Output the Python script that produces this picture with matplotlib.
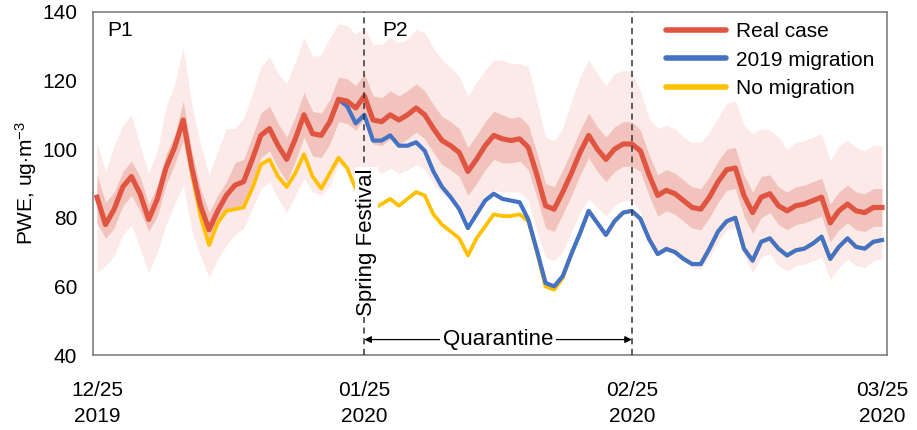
import matplotlib
matplotlib.use('Agg')
import matplotlib.pyplot as plt
from matplotlib.lines import Line2D
import pandas as pd

plt.rcParams['font.family'] = ['Liberation Sans', 'DejaVu Sans']
plt.rcParams['mathtext.fontset'] = 'custom'
plt.rcParams['mathtext.rm'] = 'Liberation Sans'
plt.rcParams['mathtext.it'] = 'Liberation Sans:italic'

# daily PWE, 2019-12-25 .. 2020-03-25
dates = pd.date_range('2019-12-25', '2020-03-25', freq='D')

real_case = [86, 78, 82.5, 89, 92, 87, 79.5, 85.5, 94.5, 100.5, 108.5, 94.5, 83.5, 76.5, 82, 86.5,
             89.5, 90.5, 97, 104, 106, 101, 97, 103, 110, 104.5, 104, 108, 114.5, 114, 112, 115.5,
             108.5, 108, 110, 108.5, 110, 112, 110, 106, 102.5, 101, 99, 93.5, 97, 101, 104, 103,
             102.5, 103, 100.5, 92.5, 83.5, 82.5, 87.5, 93, 99, 104, 100, 97, 100, 101.5, 101.5,
             99.5, 92.5, 86.5, 88, 87, 85, 83, 82.5, 86, 90.5, 94, 94.5, 86.5, 81.5, 86,
             87, 83.5, 82, 83.5, 84, 85, 86, 78.5, 82, 84, 82, 81.5, 83, 83]

# 2019 migration scenario, drawn from 2020-01-22
mig_start = '2020-01-22'
mig_2019 = [114.5, 112.5, 107.5, 110, 102.5, 102.5, 104, 101, 101, 102, 99.5, 93.5, 89, 86, 82.5, 77,
            81, 85, 87, 85.5, 85, 84.5, 79.5, 70.5, 61, 60, 63, 69.5, 75.5, 82, 78.5, 75, 79, 81.5, 82,
            79.7, 73.8, 69.4, 70.9, 70, 68, 66.5, 66.5, 71, 76, 79, 80, 71, 67.5, 73,
            74, 71, 69, 70.5, 71, 72.5, 74.5, 68, 71.5, 74, 71.5, 71, 73, 73.5]

no_mig = [86, 78, 82.5, 89, 92, 87, 79.5, 85.5, 94.5, 100.5, 108, 93, 80.5, 72, 78.5, 82,
          82.5, 83, 88.5, 95.5, 97, 92, 89, 93, 98.5, 92, 88.5, 93, 97.5, 94.5, 88.5, 84,
          82.5, 84, 85.5, 83.5, 85.5, 87.5, 86.5, 81, 78, 76, 74, 69, 74, 77.5, 81, 80.5,
          80.5, 81, 79, 70, 60, 59, 62.5, 69.5, 75.5, 82, 78.5, 75, 79, 81.5, 82,
          79.7, 73.8, 69.4, 70.9, 70, 68, 66.5, 66.5, 71, 76, 79, 80, 71, 67.5, 73,
          74, 71, 69, 70.5, 71, 72.5, 74.5, 68, 71.5, 74, 71.5, 71, 73, 73.5]

# uncertainty bands around the real case
outer_hi = [102, 93.5, 101, 107, 110, 101, 93, 99.5, 112, 119, 129.5, 113, 101.5, 92.5, 99.5, 106,
            106, 109, 116, 124, 127, 122, 119, 125.5, 132.5, 127, 127.5, 132.5, 136.5, 136, 133.5, 135.5,
            130.5, 130.5, 132.5, 131, 132, 135, 134, 129.5, 126, 124, 121, 115.5, 119.5, 123, 126, 126,
            125, 125, 124, 114, 103.5, 102.5, 106, 114, 121, 126, 122, 118.5, 122, 123, 122.5,
            117, 109, 106, 107, 106, 103.5, 102, 102, 105, 109, 113.5, 114, 107, 104.5, 106,
            105.5, 103.5, 100, 102, 102.5, 103.5, 104.5, 96.5, 101, 102.5, 100.5, 99.5, 101, 101]
outer_lo = [64, 66, 69, 75, 78, 71, 64, 70, 78, 84, 89.5, 76, 69, 62.5, 68, 72,
            75, 77, 82.5, 88.5, 90.5, 85.5, 81.5, 86.5, 91.5, 87.5, 86.5, 89.5, 95.5, 94.5, 91.5, 95,
            94, 93, 94.5, 93, 94, 95.5, 94, 90, 87, 85.5, 83.5, 79, 82, 85.5, 88, 87.5,
            87.5, 87.5, 85, 76, 68.5, 67.5, 70, 76, 81.5, 85.5, 83, 80.5, 83.5, 85, 85,
            82, 75, 69, 70.5, 69.5, 67.5, 65.5, 65, 68.5, 73, 76.5, 77, 69, 64, 68.5,
            69.5, 66, 64.5, 66, 66.5, 67.5, 68.5, 62, 65.5, 68, 66, 65.5, 67.5, 68]
inner_hi = [92.5, 84.5, 87.5, 93.5, 96.5, 92, 84, 89.5, 98.5, 104, 114, 99.5, 88.5, 81.5, 86.5, 90.5,
            96, 97, 103.5, 110.5, 112.5, 107.5, 103.5, 109.5, 116.5, 111, 110.5, 114.5, 121, 120.5, 118.5, 122,
            115.5, 115, 117, 115.5, 117, 119, 117, 113, 109.5, 108, 106, 100.5, 104, 108, 111, 110,
            109, 109.5, 107, 99, 90, 89, 94, 99.5, 105.5, 110.5, 106.5, 103.5, 106.5, 108, 108,
            105.5, 98.5, 92.5, 94, 93, 91, 89, 88.5, 92, 96.5, 100, 100.5, 92.5, 87.5, 92,
            92.5, 89, 87.5, 89, 89.5, 90.5, 91.5, 84, 87.5, 89.5, 87.5, 87, 88.5, 88.5]
inner_lo = [78.5, 74, 77, 83.5, 86.5, 82, 76, 80.5, 89.5, 95.5, 102.5, 89.5, 79.5, 73, 78, 82,
            83, 84, 90.5, 97.5, 99.5, 94.5, 90.5, 96.5, 103.5, 98, 97.5, 101.5, 108, 107.5, 105.5, 109,
            101.5, 101, 103, 101.5, 103, 105, 103, 99, 95.5, 94, 92, 86.5, 90, 94, 97, 96,
            96, 96.5, 94, 86, 77, 76, 81, 86.5, 92.5, 97.5, 93.5, 90.5, 93.5, 95, 95,
            93.5, 86.5, 80.5, 82, 81, 79, 77, 76.5, 80, 84.5, 88, 88.5, 80.5, 75.5, 80,
            81.5, 78, 76.5, 78, 78.5, 79.5, 80.5, 73, 76.5, 78.5, 76.5, 76, 77.5, 77.5]

tick_dates = ['2019-12-25', '2020-01-25', '2020-02-25', '2020-03-25']
tick_labels = ['12/25\n2019', '01/25\n2020', '02/25\n2020', '03/25\n2020']

red = '#DF5542'
blue = '#4472C4'
gold = '#FFC000'

fig = plt.figure(figsize=(9.17, 4.30), dpi=100)
ax = fig.add_axes([0.1014, 0.1744, 0.8659, 0.798])

mig_dates = pd.date_range(mig_start, periods=len(mig_2019), freq='D')

ax.fill_between(dates, outer_lo, outer_hi, color='#FBEAE8', lw=0, zorder=1)
ax.fill_between(dates, inner_lo, inner_hi, color='#F2C3BD', lw=0, zorder=1.5)
ax.plot(dates, no_mig, color=gold, lw=2.7, zorder=2)
ax.plot(mig_dates, mig_2019, color=blue, lw=3.0, zorder=3)
ax.plot(dates, real_case, color=red, lw=3.7, zorder=4)

# spring festival / quarantine markers
for d in ['2020-01-25', '2020-02-25']:
    ax.axvline(pd.Timestamp(d), color='#333333', lw=1.1, ls=(0, (4, 3)), zorder=5)

ax.text(pd.Timestamp('2020-01-25 06:00'), 73, 'Spring Festival', rotation=90,
        ha='center', va='center', fontsize=16, zorder=6,
        bbox=dict(facecolor='white', edgecolor='none', pad=1))
ax.annotate('', xy=(pd.Timestamp('2020-01-25'), 44.5), xytext=(pd.Timestamp('2020-02-25'), 44.5),
            arrowprops=dict(arrowstyle='<|-|>', color='black', lw=0.9, mutation_scale=10,
                            shrinkA=0, shrinkB=0), zorder=6)
ax.text(pd.Timestamp('2020-02-09 12:00'), 44.5, 'Quarantine', ha='center', va='center',
        fontsize=16, zorder=7, bbox=dict(facecolor='white', edgecolor='none', pad=2))

ax.text(pd.Timestamp('2019-12-26 06:00'), 134.5, 'P1', fontsize=15, va='center')
ax.text(pd.Timestamp('2020-01-27 03:00'), 134.5, 'P2', fontsize=15, va='center')

ax.set_ylim(40, 140)
ax.set_yticks([40, 60, 80, 100, 120, 140])
ax.set_xlim(dates[0] - pd.Timedelta(hours=11), dates[-1] + pd.Timedelta(hours=14))
ax.set_xticks(pd.to_datetime(tick_dates))
ax.set_xticklabels(tick_labels, linespacing=1.47)
ax.tick_params(axis='both', length=0, labelsize=15)
ax.tick_params(axis='y', pad=11.5)
ax.tick_params(axis='x', pad=19)
ax.set_ylabel('PWE, ug$\\cdot$m$^{\\mathrm{-3}}$', fontsize=15, labelpad=2)
for s in ax.spines.values():
    s.set_color('#7f7f7f')
    s.set_linewidth(1.2)

handles = [Line2D([], [], color=red, lw=4, solid_capstyle='round'),
           Line2D([], [], color=blue, lw=4, solid_capstyle='round'),
           Line2D([], [], color=gold, lw=4, solid_capstyle='round')]
ax.legend(handles, ['Real case', '2019 migration', 'No migration'], loc='upper left',
          bbox_to_anchor=(0.708, 1.0), frameon=False, fontsize=15, handlelength=2.9,
          handletextpad=0.5, labelspacing=0.45, borderpad=0.5, borderaxespad=0)

fig.savefig('out.png', dpi=100)
